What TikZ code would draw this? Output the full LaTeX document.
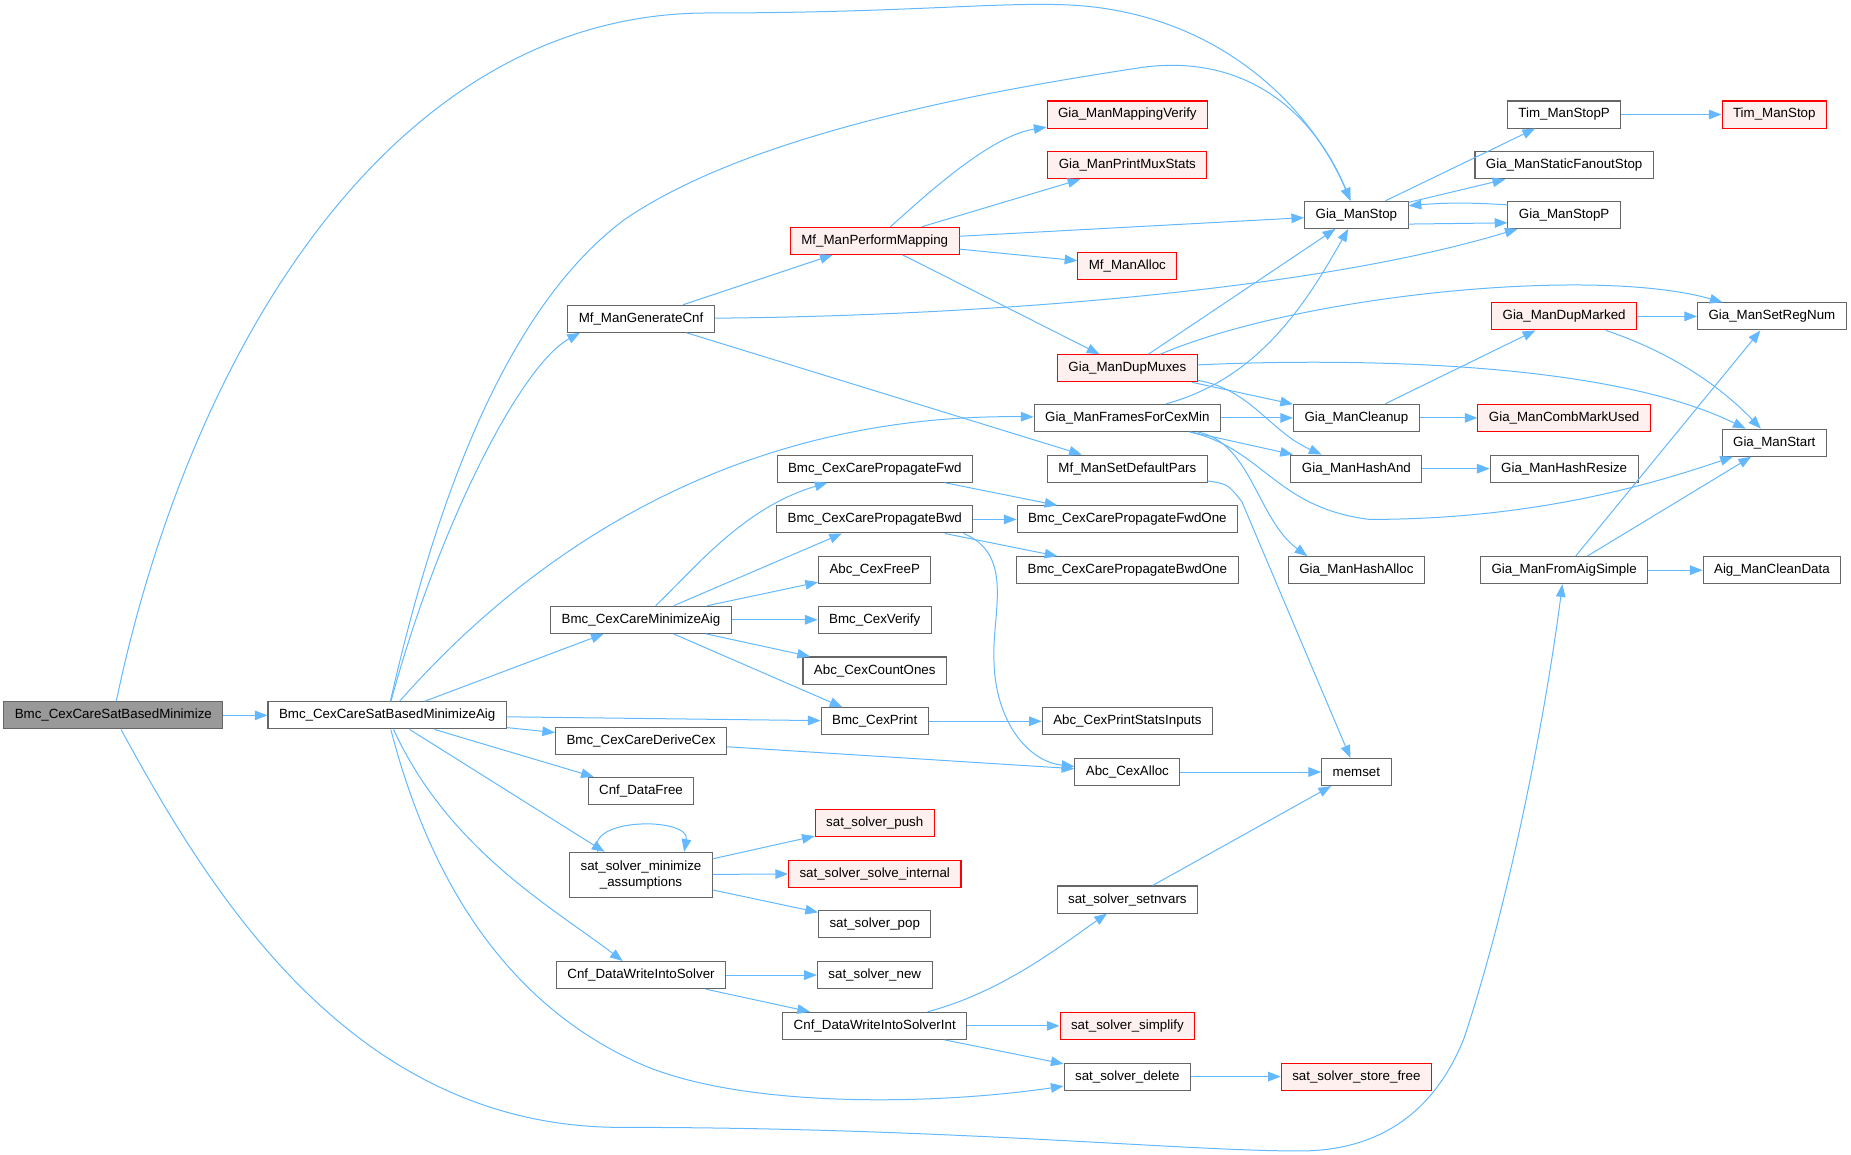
\documentclass[tikz,border=0pt]{standalone}
\usepackage{fontspec}
\setmainfont{Liberation Sans}
\usetikzlibrary{arrows.meta}
\definecolor{edgec}{HTML}{63B8FF}
\definecolor{nodeb}{HTML}{666666}
\definecolor{redb}{HTML}{FF0000}
\definecolor{redf}{HTML}{FFF0F0}
\definecolor{rootf}{HTML}{999999}
\begin{document}
\begin{tikzpicture}[x=0.8854pt,y=-0.8854pt,
  box/.style={draw=nodeb, line width=0.8pt, fill=white, rectangle, inner xsep=8.25pt, inner ysep=0pt,
    minimum height=20.3pt, font=\fontsize{10}{12}\selectfont, text=black},
  redbox/.style={box, draw=redb, fill=redf},
  rootbox/.style={box, fill=rootf},
  edge/.style={draw=edgec, line width=0.75pt, -{Triangle[length=9.5pt,width=7.2pt]}}]
\useasboundingbox (0,0) rectangle (1568,978);
% nodes
\node[rootbox] (A) at (96,606) {Bmc\_CexCareSatBasedMinimize};
\node[box] (B) at (328,606) {Bmc\_CexCareSatBasedMinimizeAig};
\node[box] (mfgen) at (543,270) {Mf\_ManGenerateCnf};
\node[redbox] (mfperf) at (741,204) {Mf\_ManPerformMapping};
\node[redbox] (mapver) at (955,97) {Gia\_ManMappingVerify};
\node[redbox] (muxst) at (955,140) {Gia\_ManPrintMuxStats};
\node[redbox] (mfalloc) at (955,225) {Mf\_ManAlloc};
\node[redbox] (dupmux) at (955,312) {Gia\_ManDupMuxes};
\node[box] (gstop) at (1149,182) {Gia\_ManStop};
\node[box] (timsp) at (1325,97) {Tim\_ManStopP};
\node[redbox] (timst) at (1503,97) {Tim\_ManStop};
\node[box] (sfo) at (1325,140) {Gia\_ManStaticFanoutStop};
\node[box] (gstopp) at (1325,182) {Gia\_ManStopP};
\node[redbox] (dupmark) at (1325,268) {Gia\_ManDupMarked};
\node[box] (setreg) at (1501,268) {Gia\_ManSetRegNum};
\node[box] (frames) at (955,354) {Gia\_ManFramesForCexMin};
\node[box] (cleanup) at (1149,354) {Gia\_ManCleanup};
\node[redbox] (comb) at (1325,354) {Gia\_ManCombMarkUsed};
\node[box] (gstart) at (1503,375) {Gia\_ManStart};
\node[box] (hashand) at (1149,397) {Gia\_ManHashAnd};
\node[box] (hashres) at (1325,397) {Gia\_ManHashResize};
\node[box] (defpars) at (955,397) {Mf\_ManSetDefaultPars};
\node[box] (pfwd) at (741,397) {Bmc\_CexCarePropagateFwd};
\node[box] (pbwd) at (741,440) {Bmc\_CexCarePropagateBwd};
\node[box] (pfwdone) at (955,440) {Bmc\_CexCarePropagateFwdOne};
\node[box] (pbwdone) at (955,483) {Bmc\_CexCarePropagateBwdOne};
\node[box] (hashalloc) at (1149,483) {Gia\_ManHashAlloc};
\node[box] (fromaig) at (1325,483) {Gia\_ManFromAigSimple};
\node[box] (cleandata) at (1501,483) {Aig\_ManCleanData};
\node[box] (freep) at (741,483) {Abc\_CexFreeP};
\node[box] (minaig) at (543,525) {Bmc\_CexCareMinimizeAig};
\node[box] (verify) at (741,525) {Bmc\_CexVerify};
\node[box] (countones) at (741,568) {Abc\_CexCountOnes};
\node[box] (print) at (741,611) {Bmc\_CexPrint};
\node[box] (statsin) at (955,611) {Abc\_CexPrintStatsInputs};
\node[box] (derive) at (543,628) {Bmc\_CexCareDeriveCex};
\node[box] (cnffree) at (543,670) {Cnf\_DataFree};
\node[box] (cexalloc) at (955,654) {Abc\_CexAlloc};
\node[box] (memset) at (1149,654) {memset};
\node[redbox] (push) at (741,697) {sat\_solver\_push};
\node[box, minimum height=33.6pt, align=center] (minass) at (543,741) {sat\_solver\_minimize\\\_assumptions};
\node[redbox] (solveint) at (741,740) {sat\_solver\_solve\_internal};
\node[box] (pop) at (741,783) {sat\_solver\_pop};
\node[box] (setnvars) at (955,762) {sat\_solver\_setnvars};
\node[box] (writeinto) at (543,826) {Cnf\_DataWriteIntoSolver};
\node[box] (satnew) at (741,826) {sat\_solver\_new};
\node[box] (writeint) at (741,869) {Cnf\_DataWriteIntoSolverInt};
\node[redbox] (simplify) at (955,869) {sat\_solver\_simplify};
\node[box] (satdel) at (955,912) {sat\_solver\_delete};
\node[redbox] (storefree) at (1149,912) {sat\_solver\_store\_free};
% edges from A
\draw[edge] (A) -- (B);
\draw[edge] (A) .. controls (160,300) and (330,11) .. (600,11) .. controls (760,11) and (840,2) .. (900,4) .. controls (1030,8) and (1110,90) .. (gstop);
\draw[edge] (A) .. controls (180,760) and (300,955) .. (526,955) .. controls (800,955) and (1000,975) .. (1101,975) .. controls (1180,975) and (1220,930) .. (1240,880) .. controls (1280,760) and (1310,600) .. (fromaig);
% edges from B
\draw[edge] (B) .. controls (370,420) and (430,260) .. (529,186) .. controls (640,110) and (850,75) .. (968,57) .. controls (1060,45) and (1115,100) .. (gstop);
\draw[edge] (B) .. controls (370,450) and (440,310) .. (mfgen.193);
\draw[edge] (B) .. controls (430,490) and (600,350) .. (frames);
\draw[edge] (B) -- (minaig);
\draw[edge] (B) -- (print);
\draw[edge] (B) -- (derive);
\draw[edge] (B) -- (cnffree);
\draw[edge] (B) -- (minass);
\draw[edge] (B) .. controls (380,720) and (470,770) .. (writeinto);
\draw[edge] (B) .. controls (360,730) and (420,850) .. (549,904) .. controls (640,940) and (800,935) .. (satdel);
% Mf_ManGenerateCnf
\draw[edge] (mfgen) -- (mfperf);
\draw[edge] (mfgen) .. controls (800,268) and (1100,250) .. (gstopp);
\draw[edge] (mfgen) -- (defpars);
% Mf_ManPerformMapping
\draw[edge] (mfperf) .. controls (790,160) and (840,115) .. (mapver);
\draw[edge] (mfperf) -- (muxst);
\draw[edge] (mfperf) -- (gstop);
\draw[edge] (mfperf) -- (mfalloc);
\draw[edge] (mfperf) -- (dupmux);
% Gia_ManDupMuxes
\draw[edge] (dupmux) -- (gstop);
\draw[edge] (dupmux) .. controls (1100,250) and (1350,225) .. (setreg);
\draw[edge] (dupmux) .. controls (1100,305) and (1350,300) .. (gstart);
\draw[edge] (dupmux) -- (cleanup);
\draw[edge] (dupmux) .. controls (1060,330) and (1075,365) .. (hashand.158);
% Gia_ManFramesForCexMin
\draw[edge] (frames.20) .. controls (1070,320) and (1110,250) .. (gstop);
\draw[edge] (frames) -- (cleanup);
\draw[edge] (frames) -- (hashand);
\draw[edge] (frames) .. controls (1060,375) and (1065,440) .. (hashalloc.164);
\draw[edge] (frames) .. controls (1070,380) and (1080,430) .. (1160,440) .. controls (1300,440) and (1400,410) .. (gstart);
% Gia_ManStop and friends
\draw[edge] (gstop) -- (timsp);
\draw[edge] (gstop) -- (sfo);
\draw[edge] (gstop.-10) -- (gstopp.188);
\draw[edge] (gstopp.170) to[bend right=4] (gstop.10);
\draw[edge] (timsp) -- (timst);
\draw[edge] (cleanup) -- (dupmark);
\draw[edge] (cleanup) -- (comb);
\draw[edge] (dupmark) -- (setreg);
\draw[edge] (dupmark) .. controls (1420,300) and (1460,330) .. (gstart);
\draw[edge] (hashand) -- (hashres);
\draw[edge] (fromaig) -- (setreg);
\draw[edge] (fromaig) -- (gstart);
\draw[edge] (fromaig) -- (cleandata);
\draw[edge] (defpars) .. controls (1040,410) .. (1052,425) -- (memset);
% Bmc_CexCareMinimizeAig
\draw[edge] (minaig) .. controls (590,480) and (630,430) .. (pfwd);
\draw[edge] (minaig) -- (pbwd);
\draw[edge] (minaig) -- (freep);
\draw[edge] (minaig) -- (verify);
\draw[edge] (minaig) -- (countones);
\draw[edge] (minaig) -- (print);
\draw[edge] (pfwd) -- (pfwdone);
\draw[edge] (pbwd) -- (pfwdone);
\draw[edge] (pbwd) -- (pbwdone);
\draw[edge] (pbwd.-9.5) .. controls (860,470) and (840,520) .. (842,560) .. controls (843,610) and (870,645) .. (cexalloc);
\draw[edge] (print) -- (statsin);
\draw[edge] (derive) -- (cexalloc);
\draw[edge] (cexalloc) -- (memset);
% sat solver
\draw[edge] (minass.152) .. controls (495,692) and (585,692) .. (minass.28);
\draw[edge] (minass) -- (push);
\draw[edge] (minass) -- (solveint);
\draw[edge] (minass) -- (pop);
\draw[edge] (writeinto) -- (satnew);
\draw[edge] (writeinto) -- (writeint);
\draw[edge] (writeint) .. controls (850,840) and (900,800) .. (setnvars);
\draw[edge] (writeint) -- (simplify);
\draw[edge] (writeint) -- (satdel);
\draw[edge] (setnvars) -- (memset);
\draw[edge] (satdel) -- (storefree);
\end{tikzpicture}
\end{document}
